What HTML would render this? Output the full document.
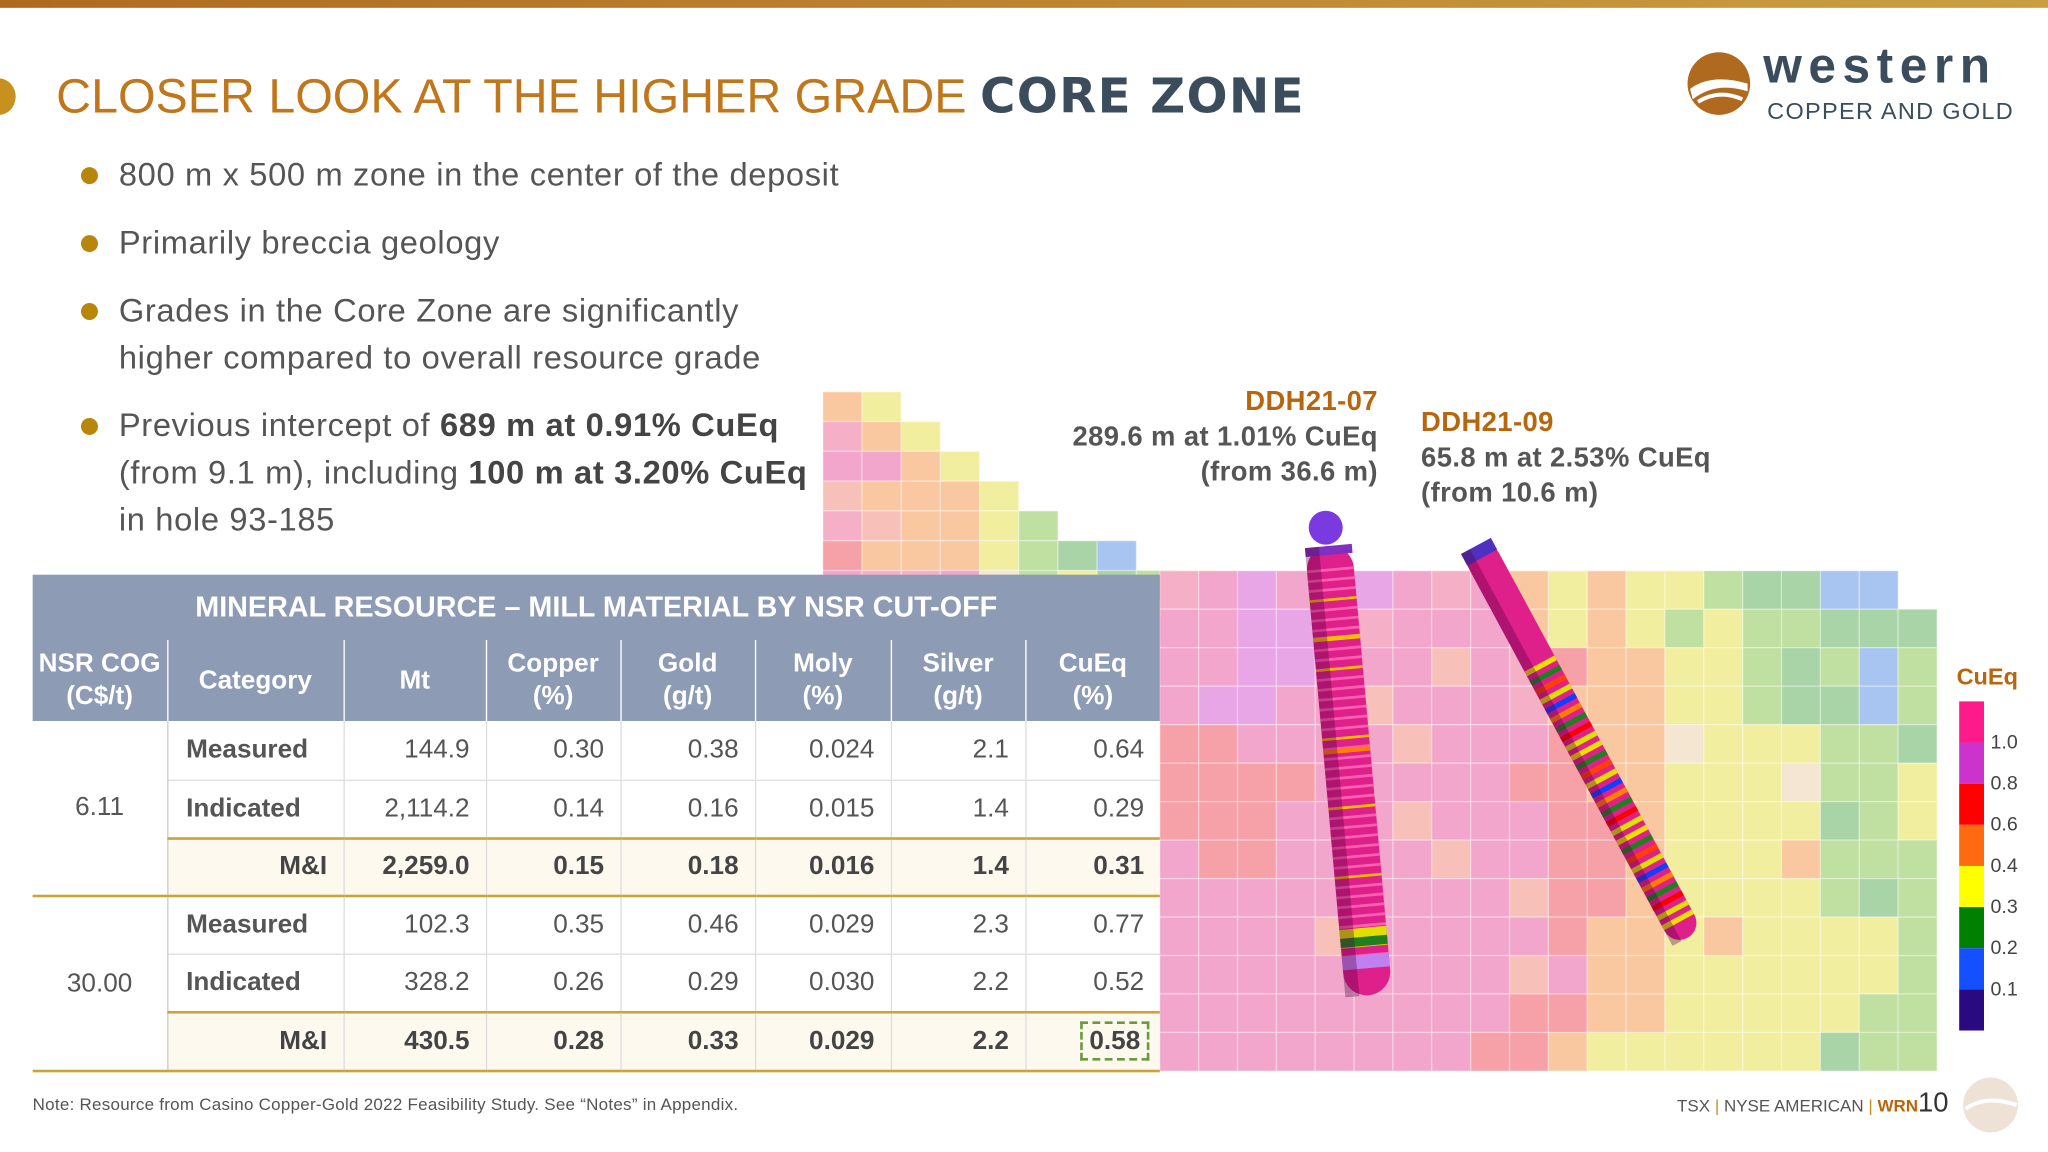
<!DOCTYPE html>
<html><head><meta charset="utf-8">
<style>
html,body{margin:0;padding:0;width:2048px;height:1152px;overflow:hidden;background:#fff;}
#wrap{position:absolute;left:0;top:0;width:1568px;height:882px;transform:scale(1.30612);transform-origin:0 0;font-family:"Liberation Sans",sans-serif;}
.abs{position:absolute;}
.bul{position:absolute;left:91px;font-size:25px;letter-spacing:0.5px;color:#555;line-height:36px;white-space:nowrap;}
.dot{position:absolute;left:62px;width:13px;height:13px;border-radius:50%;background:#b8860b;}
table{border-collapse:collapse;}
</style></head><body>
<div id="wrap">
<div class="abs" style="left:0;top:0;width:1568px;height:6px;background:linear-gradient(90deg,#b06a20,#c8a040);"></div>
<div class="abs" style="left:-14px;top:60px;width:26px;height:28px;border-radius:50%;background:#c8901c;"></div>
<div class="abs" style="left:43px;top:52px;font-size:37px;color:#c0761a;white-space:nowrap;">CLOSER LOOK AT THE HIGHER GRADE <b style="color:#3b4d5c;font-family:'DejaVu Sans',sans-serif;font-size:37px;letter-spacing:1px;">CORE ZONE</b></div>
<div class="abs" style="left:1290px;top:38px;width:250px;height:56px;">
 <svg width="52" height="52" style="position:absolute;left:0;top:0"><circle cx="26" cy="26" r="24" fill="#b06a20"/><path d="M4 30 Q20 18 48 26 L48 32 Q24 24 6 38Z" fill="#fff"/><path d="M10 40 Q26 30 44 38" stroke="#fff" stroke-width="3" fill="none"/></svg>
 <div class="abs" style="left:60px;top:-8px;font-size:38px;font-weight:bold;color:#3b4d5c;letter-spacing:5px;">western</div>
 <div class="abs" style="left:63px;top:37px;font-size:18px;color:#3b4d5c;letter-spacing:1px;white-space:nowrap;">COPPER AND GOLD</div>
</div>

<div class="dot" style="top:128px"></div>
<div class="bul" style="top:116px">800 m x 500 m zone in the center of the deposit</div>
<div class="dot" style="top:180px"></div>
<div class="bul" style="top:168px">Primarily breccia geology</div>
<div class="dot" style="top:232px"></div>
<div class="bul" style="top:220px">Grades in the Core Zone are significantly<br>higher compared to overall resource grade</div>
<div class="dot" style="top:320px"></div>
<div class="bul" style="top:308px">Previous intercept of <b style="color:#444">689 m at 0.91% CuEq</b><br>(from 9.1 m), including <b style="color:#444">100 m at 3.20% CuEq</b><br>in hole 93-185</div>

<svg class="abs" style="left:0;top:0" width="1568" height="882" id="model"></svg>

<div class="abs" style="left:740px;top:294px;width:315px;text-align:right;font-size:21px;font-weight:bold;color:#555;line-height:27px;letter-spacing:0.3px;"><span style="color:#b8660e">DDH21-07</span><br>289.6 m at 1.01% CuEq<br>(from 36.6 m)</div>
<div class="abs" style="left:1088px;top:310px;font-size:21px;font-weight:bold;color:#555;line-height:27px;white-space:nowrap;letter-spacing:0.3px;"><span style="color:#b8660e">DDH21-09</span><br>65.8 m at 2.53% CuEq<br>(from 10.6 m)</div>

<div class="abs" style="left:1498px;top:508px;font-size:18px;font-weight:bold;color:#b8660e;">CuEq</div>
<svg class="abs" style="left:1490px;top:530px" width="70" height="270" id="legend"></svg>

<div class="abs" style="left:25px;top:440px;width:863px;">
<div style="height:50px;background:#8d9bb5;color:#fff;font-size:22px;font-weight:bold;text-align:center;line-height:50px;">MINERAL RESOURCE – MILL MATERIAL BY NSR CUT-OFF</div>
<table id="tbl" style="width:863px;font-size:20px;color:#555;table-layout:fixed;">
<colgroup><col style="width:103px"><col style="width:135px"><col style="width:109px"><col style="width:103px"><col style="width:103px"><col style="width:104px"><col style="width:103px"><col style="width:103px"></colgroup>
<tr style="height:62px;background:#8d9bb5;color:#fff;font-weight:bold;text-align:center;line-height:25px;">
<td style="border-right:1px solid #fff">NSR COG<br>(C$/t)</td><td style="border-right:1px solid #fff">Category</td><td style="border-right:1px solid #fff">Mt</td><td style="border-right:1px solid #fff">Copper<br>(%)</td><td style="border-right:1px solid #fff">Gold<br>(g/t)</td><td style="border-right:1px solid #fff">Moly<br>(%)</td><td style="border-right:1px solid #fff">Silver<br>(g/t)</td><td>CuEq<br>(%)</td></tr>
</table></div>

<div class="abs" style="left:25px;top:838px;font-size:13px;color:#555;letter-spacing:0.2px;">Note: Resource from Casino Copper-Gold 2022 Feasibility Study. See “Notes” in Appendix.</div>
<div class="abs" style="left:1284px;top:833px;font-size:13px;color:#555;white-space:nowrap;">TSX <span style="color:#c8901c">|</span> NYSE AMERICAN <span style="color:#c8901c">|</span> <b style="color:#b8660e">WRN</b><span style="font-size:21px;color:#333;">10</span></div>
<svg class="abs" style="left:1502px;top:824px" width="44" height="44"><circle cx="22" cy="22" r="21" fill="#eee2d6"/><path d="M3 25 Q18 14 42 22" stroke="#fff" stroke-width="3" fill="none"/></svg>
</div>
<script>
const rows=[
["6.11","Measured","144.9","0.30","0.38","0.024","2.1","0.64"],
["","Indicated","2,114.2","0.14","0.16","0.015","1.4","0.29"],
["","M&I","2,259.0","0.15","0.18","0.016","1.4","0.31"],
["30.00","Measured","102.3","0.35","0.46","0.029","2.3","0.77"],
["","Indicated","328.2","0.26","0.29","0.030","2.2","0.52"],
["","M&I","430.5","0.28","0.33","0.029","2.2","0.58"]];
const tbl=document.getElementById('tbl');
rows.forEach((r,i)=>{
 const tr=document.createElement('tr');
 
 
 tr.style.height=(i==0?45:44.6)+'px';
 const mi=r[1]==='M&I';
 r.forEach((v,j)=>{
  if(j==0&&(i%3)!=0)return;
  const td=document.createElement('td');
  td.textContent=v;
  if(j==0){td.rowSpan=3;td.style.textAlign='center';td.style.borderRight='1px solid #ccc';td.style.borderBottom='2px solid #c9a43a';}
  else{
   td.style.textAlign=j==1&&!mi?'left':'right';
   td.style.padding=j==1&&!mi?'0 0 0 14px':'0 12px 0 0';
   if(j==1)td.style.fontWeight='bold';
   if(j<7)td.style.borderRight='1px solid #ddd';
   td.style.borderBottom=mi?'2px solid #c9a43a':'1px solid #ddd';
   if(i==1||i==4)td.style.borderBottom='2px solid #c9a43a';
   if(mi){td.style.fontWeight='bold';td.style.background='#fdf9ee';td.style.color='#444';}
   if(i==5&&j==7){td.innerHTML='<span style="border:2px dashed #6a9a40;padding:2px 5px;">0.58</span>';td.style.padding='0 8px 0 0';}
  }
  tr.appendChild(td);
 });
 tbl.appendChild(tr);
});
const C={p:'#f2a6cc',q:'#f5b0c8',r:'#f6a0a8',m:'#e9a6e6',o:'#f9c8a0',y:'#f2eea0',g:'#bfe0a0',G:'#a8d4a8',b:'#a8c4f0',l:'#f4e6d0',s:'#f7c0b8'};
const mainRows=[
"qpmpqmpqpoyoyygGGbb.",
"ppmmpqpppoyoygyggGGG",
"ppmmpppspqrooyygGgbg",
"pmmppspppqoooyygGGbg",
"rrppppsppproolyyyggG",
"rrrrppppprrooyyylggy",
"rrrpppsppprroyyyyGgy",
"prrppppspprroyyyoggg",
"pppppppppsrroyyyygGg",
"ppppsppppprooyoyyyyg",
"pppppppppspooyyyyyyg",
"ppppppppprrooyyyyygg",
"pppppppprroyyyyyyGgg"];
const topRows=[
"oy.........",
"qoy........",
"ppoy.......",
"soooy......",
"qsooyg.....",
"roooygGb...",
"pqqplgyGgy."];
const svg=document.getElementById('model');
const NS='http://www.w3.org/2000/svg';
function cell(x,y,w,h,c){const e=document.createElementNS(NS,'rect');e.setAttribute('x',x);e.setAttribute('y',y);e.setAttribute('width',w);e.setAttribute('height',h);e.setAttribute('fill',c);e.setAttribute('stroke','rgba(255,255,255,0.35)');e.setAttribute('stroke-width','1');


svg.appendChild(e);}
topRows.forEach((row,i)=>{[...row].forEach((ch,j)=>{if(ch!=='.')cell(630+j*30,300+i*22.8,30,22.8,C[ch]);});});
mainRows.forEach((row,i)=>{[...row].forEach((ch,j)=>{if(ch!=='.')cell(888+j*29.75,437+i*29.46,29.75,29.46,C[ch]);});});
function hole(x1,y1,x2,y2,w,stripes,name){
 const g=document.createElementNS(NS,'g');
 
 
 const len=Math.hypot(x2-x1,y2-y1),ang=Math.atan2(y2-y1,x2-x1)*180/Math.PI-90;
 g.setAttribute('transform',`translate(${x1},${y1}) rotate(${ang})`);
 let h=`<rect x="${-w/2}" y="0" width="${w}" height="${len}" rx="${w/2}" fill="#e0208a"/>`;
 stripes.forEach(s=>{h+=`<rect x="${-w/2}" y="${s[0]*len}" width="${w}" height="${s[1]*len}" fill="${s[2]}"/>`;});
 h+=`<rect x="${-w/2}" y="0" width="${w*0.3}" height="${len}" fill="rgba(80,0,60,0.35)"/>`;
 g.innerHTML=h;svg.appendChild(g);
}
const s1=[[0,0.02,'#8030c0']];for(let k=0;k<40;k++){s1.push([0.05+k*0.022,0.006,k%7==3?'#f0c000':'#ff60b0']);}
s1.push([0.2,0.01,'#f0c000'],[0.45,0.01,'#ff8000'],[0.85,0.02,'#e0e000'],[0.87,0.02,'#208020'],[0.91,0.03,'#c080f0']);
hole(1017,418,1048,762,36,s1,'drill-hole-ddh21-07');
const cs=['#f0e000','#208020','#ff4000','#e0e000','#1040ff','#ff8000','#208020','#ff0000','#e0e000'];
const st=[[0,0.03,'#5030c0']];for(let k=0;k<28;k++){st.push([0.3+k*0.024,0.012,cs[k%9]]);}
hole(1130,418,1292,718,26,st,'drill-hole-ddh21-09');
const b1=document.createElementNS(NS,'circle');b1.setAttribute('cx',1015);b1.setAttribute('cy',404);b1.setAttribute('r',13);b1.setAttribute('fill','#7a3ae0');


svg.appendChild(b1);
const legColors=['#ff1a8c','#cc33cc','#ff0000','#ff6a10','#ffff00','#008000','#1450ff','#2a0a80'];
const legLabels=['1.0','0.8','0.6','0.4','0.3','0.2','0.1'];
const lg=document.getElementById('legend');
legColors.forEach((c,i)=>{const r=document.createElementNS(NS,'rect');r.setAttribute('x',10);r.setAttribute('y',7+i*31.5);r.setAttribute('width',19);r.setAttribute('height',31.5);r.setAttribute('fill',c);


lg.appendChild(r);});
legLabels.forEach((t,i)=>{const e=document.createElementNS(NS,'text');e.setAttribute('x',34);e.setAttribute('y',43+i*31.5);e.setAttribute('font-size','15');e.setAttribute('fill','#444');e.setAttribute('font-family','Liberation Sans, sans-serif');e.textContent=t;


lg.appendChild(e);});
</script>
</body></html>
